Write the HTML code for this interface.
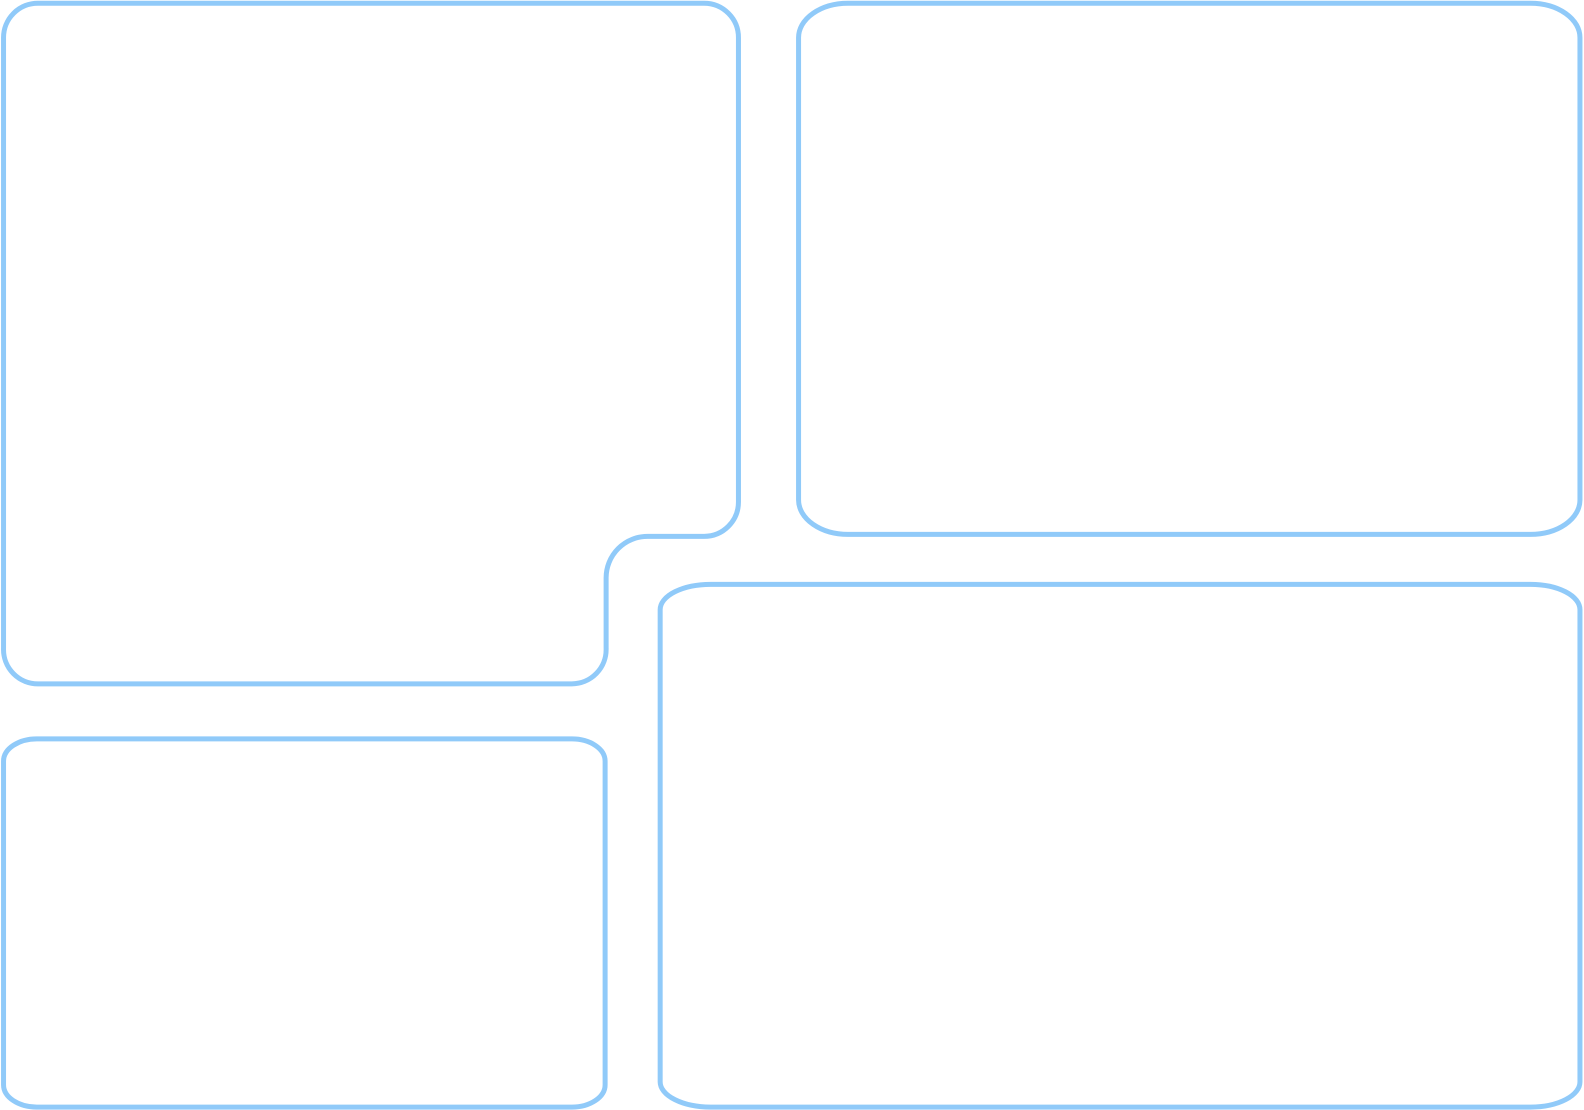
<!DOCTYPE html>
<html><head><style>html,body{margin:0;padding:0;background:#fff;width:1584px;height:1110px;overflow:hidden}</style></head>
<body>
<svg width="1584" height="1110" viewBox="0 0 1584 1110" xmlns="http://www.w3.org/2000/svg" fill="none" stroke="#90CAF9" stroke-width="4.95">
<g transform="scale(1.0102,1.0101)">
<path d="M38,3.2 H697 A34,34 0 0 1 731,37.5 V497 A34,34 0 0 1 697,531 H641 A41,41 0 0 0 600,572 V642 A34,34 0 0 1 566,677 H38 A34,34 0 0 1 3.5,642 V37.5 A34,34 0 0 1 38,3.2 Z"/>
<path d="M840,3.2 H1515 A49,34 0 0 1 1564,37.5 V495 A49,34 0 0 1 1515,529 H840 A49,34 0 0 1 790.5,495 V37.5 A49,34 0 0 1 840,3.2 Z"/>
<path d="M704,578.5 H1515 A49,25 0 0 1 1564,603.5 V1071 A49,25 0 0 1 1515,1096 H704 A50,25 0 0 1 653.5,1071 V603.5 A50,25 0 0 1 704,578.5 Z"/>
<path d="M37,731.5 H566 A33,22 0 0 1 599,753.5 V1074 A33,22 0 0 1 566,1096 H37 A33,22 0 0 1 3.5,1074 V753.5 A33,22 0 0 1 37,731.5 Z"/>
</g>
</svg>
</body></html>
